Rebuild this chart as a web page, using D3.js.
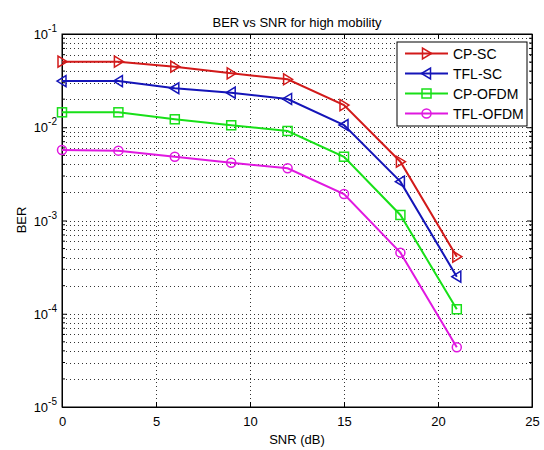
<!DOCTYPE html>
<html>
<head>
<meta charset="utf-8">
<script src="https://cdn.jsdelivr.net/npm/d3@7"></script>
<style>
	body { margin: 0; background: #fff; }
	text { font-family: Arial, "Liberation Sans", sans-serif; fill: #000; }
</style>
</head>
<body>
<div class="viz"></div>
<script>
	// data
	var snr = [0, 3, 6, 9, 12, 15, 18, 21];
	var berCPSC = [0.0505, 0.0505, 0.0446, 0.0379, 0.0327, 0.0173, 0.00427, 0.000409];
	var berTFLSC = [0.0313, 0.0313, 0.0262, 0.0235, 0.0201, 0.01057, 0.00261, 0.000250];
	var berCPOFDM = [0.01446, 0.01446, 0.01217, 0.0105, 0.00912, 0.00483, 0.001146, 0.0001117];
	var berTFLOFDM = [0.0057, 0.00561, 0.00483, 0.00417, 0.00363, 0.00192, 0.000452, 0.0000437];
	var seriesNames = ['CP-SC', 'TFL-SC', 'CP-OFDM', 'TFL-OFDM'];
	var xTicks = [0, 5, 10, 15, 20, 25];
	var yExps = [-5, -4, -3, -2, -1];

	var series = [berCPSC, berTFLSC, berCPOFDM, berTFLOFDM];
	var colors = ['#d21a1a', '#1515b8', '#18e018', '#e018e0'];
	var markers = ['right', 'left', 'square', 'circle'];

	// Defining SVG
	var margin = {top: 34, right: 12, bottom: 43, left: 62};
	var width = 544 - margin.left - margin.right;
	var height = 450 - margin.top - margin.bottom;

	var root = d3.select('.viz')
		.append('svg')
		.attr('width', 544)
		.attr('height', 450);

	var svg = root.append('g')
		.attr('transform', 'translate(' + margin.left + ',' + margin.top + ')');

	// Scales
	var xScale = d3.scaleLinear().domain([0, 25]).range([0, width]);
	var yScale = d3.scaleLog().domain([1e-5, 1e-1]).range([height, 0]);

	var minorY = [];
	for (var e = -5; e < -1; e++) {
		for (var k = 2; k <= 9; k++) minorY.push(k * Math.pow(10, e));
	}
	var majorY = yExps.map(function(p){ return Math.pow(10, p); });

	// dotted grid
	svg.append('g').attr('class', 'grid')
		.selectAll('line.gy')
		.data(minorY.concat(majorY.slice(1, 4)))
		.enter().append('line')
		.attr('x1', 0).attr('x2', width)
		.attr('y1', function(d){ return Math.round(yScale(d)) + 0.5; })
		.attr('y2', function(d){ return Math.round(yScale(d)) + 0.5; })
		.style('stroke', '#333')
		.style('stroke-dasharray', '1,3');

	svg.append('g').attr('class', 'grid')
		.selectAll('line.gx')
		.data(xTicks.slice(1, 5))
		.enter().append('line')
		.attr('x1', function(d){ return Math.round(xScale(d)) + 0.5; })
		.attr('x2', function(d){ return Math.round(xScale(d)) + 0.5; })
		.attr('y1', 0).attr('y2', height)
		.style('stroke', '#333')
		.style('stroke-dasharray', '1,3');

	// axes (ticks inward like matlab, on all four sides)
	var xAxisB = d3.axisBottom(xScale).tickValues(xTicks).tickSizeInner(-5).tickSizeOuter(0).tickPadding(10);
	var xAxisT = d3.axisTop(xScale).tickValues(xTicks).tickSizeInner(-5).tickSizeOuter(0).tickFormat('');
	var yAxisL = d3.axisLeft(yScale).tickValues(majorY).tickSizeInner(-5).tickSizeOuter(0).tickFormat('');
	var yAxisR = d3.axisRight(yScale).tickValues(majorY).tickSizeInner(-5).tickSizeOuter(0).tickFormat('');

	svg.append('g').attr('class', 'x axis').attr('transform', 'translate(0,' + height + ')').call(xAxisB);
	svg.append('g').attr('class', 'x axis').call(xAxisT);
	svg.append('g').attr('class', 'y axis').call(yAxisL);
	svg.append('g').attr('class', 'y axis').attr('transform', 'translate(' + width + ',0)').call(yAxisR);

	// minor y ticks
	svg.append('g').selectAll('line.my')
		.data(minorY)
		.enter().append('line')
		.attr('x1', 0).attr('x2', 3)
		.attr('y1', function(d){ return yScale(d); })
		.attr('y2', function(d){ return yScale(d); })
		.style('stroke', '#000');
	svg.append('g').selectAll('line.my2')
		.data(minorY)
		.enter().append('line')
		.attr('x1', width - 3).attr('x2', width)
		.attr('y1', function(d){ return yScale(d); })
		.attr('y2', function(d){ return yScale(d); })
		.style('stroke', '#000');

	svg.selectAll('.axis path').style('stroke', '#000');
	svg.selectAll('.axis line').style('stroke', '#000');
	svg.selectAll('.x.axis text').style('font-size', '13px').style('font-family', 'Arial, "Liberation Sans", sans-serif');

	// box
	svg.append('rect')
		.attr('x', 0).attr('y', 0)
		.attr('width', width).attr('height', height)
		.style('fill', 'none')
		.style('stroke', '#000');

	// y tick labels 10^n
	var yLab = svg.append('g').selectAll('text.ylab')
		.data(yExps)
		.enter().append('text')
		.attr('class', 'ylab')
		.attr('text-anchor', 'end')
		.attr('x', -5)
		.attr('y', function(d){ return yScale(Math.pow(10, d)) + 5; })
		.style('font-size', '13px');
	yLab.append('tspan').text('10');
	yLab.append('tspan').attr('dy', -7).style('font-size', '10px').text(function(d){ return d; });

	// lines
	var line = d3.line()
		.x(function(d, i){ return xScale(snr[i]); })
		.y(function(d){ return yScale(d); });

	function drawMarker(g, type, color, cx, cy) {
		if (type === 'circle') {
			g.append('circle').attr('cx', cx).attr('cy', cy).attr('r', 4.5)
				.style('fill', 'none').style('stroke', color).style('stroke-width', 1.5);
		} else if (type === 'square') {
			g.append('rect').attr('x', cx - 4.5).attr('y', cy - 4.5).attr('width', 9).attr('height', 9)
				.style('fill', 'none').style('stroke', color).style('stroke-width', 1.5);
		} else {
			var s = type === 'right' ? 1 : -1;
			var pts = [[cx + 5 * s, cy], [cx - 4 * s, cy - 5.5], [cx - 4 * s, cy + 5.5]];
			g.append('path').attr('d', 'M' + pts.join('L') + 'Z')
				.style('fill', 'none').style('stroke', color).style('stroke-width', 1.5);
		}
	}

	series.forEach(function(vals, si) {
		svg.append('path')
			.datum(vals)
			.attr('d', line)
			.style('fill', 'none')
			.style('stroke', colors[si])
			.style('stroke-width', 2);
		var mg = svg.append('g');
		vals.forEach(function(v, i) {
			drawMarker(mg, markers[si], colors[si], xScale(snr[i]), yScale(v));
		});
	});

	// legend
	var lx = width - 135, ly = 8;
	var legend = svg.append('g').attr('transform', 'translate(' + lx + ',' + ly + ')');
	legend.append('rect')
		.attr('x', 0).attr('y', 0).attr('width', 130).attr('height', 84)
		.style('fill', '#fff').style('stroke', '#000');
	seriesNames.forEach(function(name, i) {
		var yy = 11.5 + i * 20;
		legend.append('line')
			.attr('x1', 8).attr('x2', 51).attr('y1', yy).attr('y2', yy)
			.style('stroke', colors[i]).style('stroke-width', 2);
		drawMarker(legend, markers[i], colors[i], 29.5, yy);
		legend.append('text')
			.attr('x', 56).attr('y', yy + 5)
			.style('font-size', '14px')
			.text(name);
	});

	// labels
	root.append('text')
		.attr('x', margin.left + width / 2)
		.attr('y', 27)
		.attr('text-anchor', 'middle')
		.style('font-size', '13px')
		.text('BER vs SNR for high mobility');

	root.append('text')
		.attr('x', margin.left + width / 2)
		.attr('y', 444)
		.attr('text-anchor', 'middle')
		.style('font-size', '13px')
		.text('SNR (dB)');

	root.append('text')
		.attr('transform', 'translate(26,220) rotate(-90)')
		.attr('text-anchor', 'middle')
		.style('font-size', '13px')
		.text('BER');
</script>
</body>
</html>
